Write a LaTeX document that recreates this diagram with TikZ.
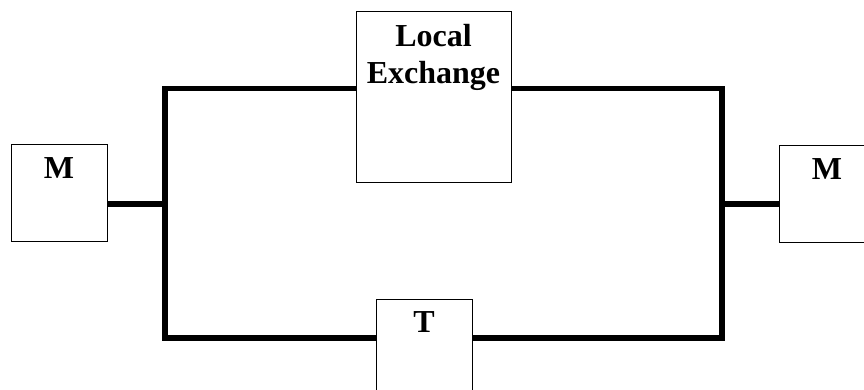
\documentclass[tikz,border=0pt]{standalone}
\usepackage{fontspec}
\setmainfont{Liberation Serif}
\usepackage{tikz}
\usetikzlibrary{calc}

\begin{document}
\begin{tikzpicture}[x=1pt, y=-1pt,
        box/.style={draw, line width=1pt, fill=white, inner sep=0pt},
        boxtext/.style={anchor=north, inner sep=0pt, yshift=-13pt, align=center,
            font=\fontsize{32}{37}\selectfont\bfseries},
        rail/.style={line width=5.5pt, line cap=butt, line join=miter}]
        \useasboundingbox (0,0) rectangle (864,390);

        % the four corners of the loop
        \coordinate (tl) at (165,88.5);
        \coordinate (tr) at (722,88.5);
        \coordinate (bl) at (165,338);
        \coordinate (br) at (722,338);
        \coordinate (jl) at (165,204);
        \coordinate (jr) at (722,204);

        \node[box, minimum width=96, minimum height=96, label={[boxtext]north:M}] (mleft) at (59,193) {};
        \node[box, minimum width=96, minimum height=96, label={[boxtext]north:M}] (mright) at (827,194) {};
        \node[box, minimum width=155, minimum height=171, label={[boxtext]north:{Local\\Exchange}}] (lex) at (433.5,97.5) {};
        \node[box, minimum width=96, minimum height=96, label={[boxtext]north:T}] (tbox) at (424,347) {};

        \draw[rail] (lex.west |- tl) -- (tl) -- (bl) -- (tbox.west |- bl);
        \draw[rail] (lex.east |- tr) -- (tr) -- (br) -- (tbox.east |- br);
        \draw[rail] (jl -| mleft.east) -- (jl);
        \draw[rail] (jr -| mright.west) -- (jr);
    \end{tikzpicture}
\end{document}
